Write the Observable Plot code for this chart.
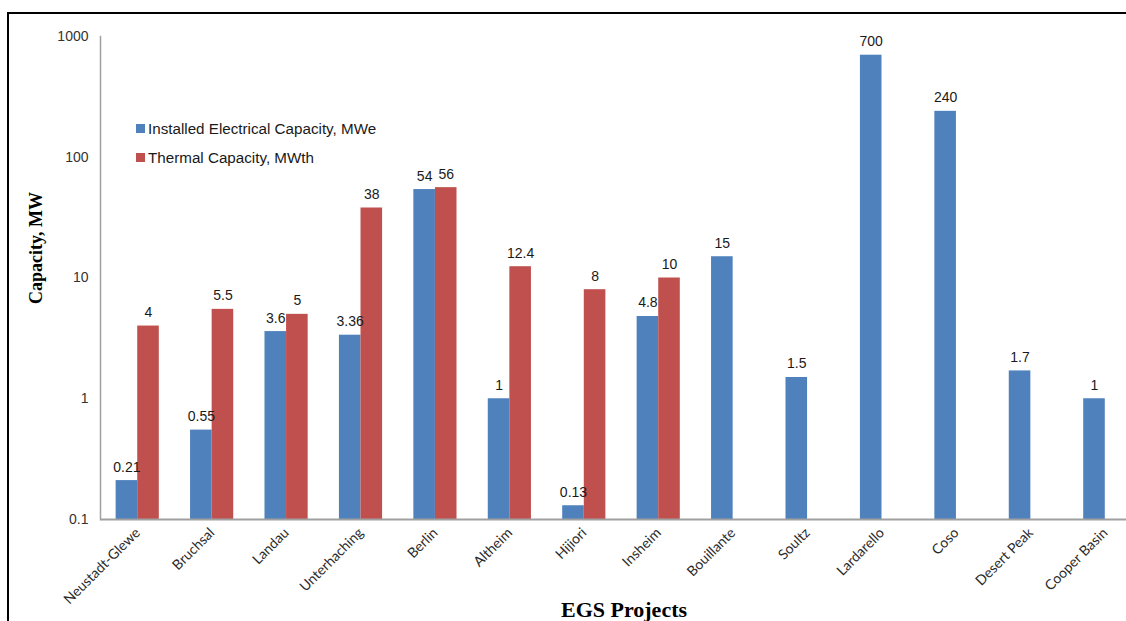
<!DOCTYPE html>
<html>
<head>
<meta charset="utf-8">
<script src="https://cdn.jsdelivr.net/npm/d3@7"></script>
<script src="https://cdn.jsdelivr.net/npm/@observablehq/plot@0.6"></script>
<style>
  html, body { margin: 0; padding: 0; background: #fff; }
  #wrap { position: relative; width: 1126px; height: 621px; overflow: hidden; background: #fff; }
  #frame { position: absolute; left: 7px; top: 12px; width: 1200px; height: 700px;
           border-top: 2.5px solid #000; border-left: 2.5px solid #000; box-sizing: border-box; }
  #chart { position: absolute; left: 0; top: 0; }
  .legend { position: absolute; left: 136px; top: 119px; font-family: "Liberation Sans", Arial, sans-serif;
            font-size: 15.2px; color: #1a1a1a; }
  .legend .row { display: flex; align-items: center; height: 18px; margin-bottom: 11px; white-space: nowrap; }
  .legend .sw { display: inline-block; width: 9px; height: 9px; margin-right: 3px; }
  .ytitle { position: absolute; left: 36px; top: 248px; transform: translate(-50%, -50%) rotate(-90deg);
            font-family: "Liberation Serif", "Times New Roman", serif; font-weight: bold; font-size: 18px;
            white-space: nowrap; color: #000; }
  .xtitle { position: absolute; left: 624px; top: 599px; transform: translateX(-50%);
            font-family: "Liberation Serif", "Times New Roman", serif; font-weight: bold; font-size: 22px;
            white-space: nowrap; color: #000; line-height: 1; }
</style>
</head>
<body>
<div id="wrap">
  <div id="chart"></div>
  <div id="frame"></div>
  <div class="legend" id="legend"></div>
  <div class="ytitle" id="ytitle"></div>
  <div class="xtitle" id="xtitle"></div>
</div>
<script>
const projects = ["Neustadt-Glewe","Bruchsal","Landau","Unterhaching","Berlin","Altheim","Hijiori","Insheim","Bouillante","Soultz","Lardarello","Coso","Desert Peak","Cooper Basin"];
const electrical = [0.21, 0.55, 3.6, 3.36, 54, 1, 0.13, 4.8, 15, 1.5, 700, 240, 1.7, 1];
const thermal = [4, 5.5, 5, 38, 56, 12.4, 8, 10, null, null, null, null, null, null];
const yTicks = [0.1, 1, 10, 100, 1000];
const seriesNames = ["Installed Electrical Capacity, MWe", "Thermal Capacity, MWth"];
const seriesColors = ["#4F81BD", "#C0504D"];
const yTitle = "Capacity, MW";
const xTitle = "EGS Projects";

const elec = projects.map((p, i) => ({project: p, value: electrical[i]}));
const therm = projects.map((p, i) => ({project: p, value: thermal[i]})).filter(d => d.value != null);

const xRange = [100, 1142];
const padInner = 0.42, padOuter = 0.21;
const step = (xRange[1] - xRange[0]) / (projects.length - padInner + 2 * padOuter);
const half = step * (1 - padInner) / 2;

const chart = Plot.plot({
  width: 1126,
  height: 621,
  marginTop: 36,
  marginBottom: 102,
  marginLeft: 100,
  marginRight: 0,
  style: {fontFamily: "'Liberation Sans', Arial, sans-serif", background: "transparent", overflow: "visible"},
  x: {domain: projects, range: xRange, paddingInner: padInner, paddingOuter: padOuter, round: false, axis: null},
  y: {type: "log", domain: [0.1, 1000], axis: null},
  marks: [
    Plot.barY(elec, {x: "project", y1: 0.1, y2: "value", fill: seriesColors[0], insetRight: half}),
    Plot.barY(therm, {x: "project", y1: 0.1, y2: "value", fill: seriesColors[1], insetLeft: half}),
    Plot.ruleY([0.1], {stroke: "#a0a0a0", strokeWidth: 2}),
    Plot.frame({anchor: "left", stroke: "#a0a0a0", strokeWidth: 1.5}),
    Plot.text(elec, {x: "project", y: "value", text: d => String(d.value), dx: -half / 2, dy: -9,
                     lineAnchor: "bottom", fontSize: 14, fill: "#1a1a1a"}),
    Plot.text(therm, {x: "project", y: "value", text: d => String(d.value), dx: half / 2, dy: -9,
                      lineAnchor: "bottom", fontSize: 14, fill: "#1a1a1a"}),
    Plot.axisY({ticks: yTicks, tickFormat: d => String(d), tickSize: 0, tickPadding: 12,
                fontSize: 14, fill: "#333", label: null}),
    Plot.axisX({tickRotate: -45, tickSize: 0, tickPadding: 11, fontSize: 14,
                fontFamily: "Lato, 'Open Sans', sans-serif", fill: "#2a2a2a", label: null})
  ]
});
document.getElementById("chart").appendChild(chart);

const legend = document.getElementById("legend");
seriesNames.forEach((name, i) => {
  const row = document.createElement("div");
  row.className = "row";
  const sw = document.createElement("span");
  sw.className = "sw";
  sw.style.background = seriesColors[i];
  row.appendChild(sw);
  row.appendChild(document.createTextNode(name));
  legend.appendChild(row);
});
document.getElementById("ytitle").textContent = yTitle;
document.getElementById("xtitle").textContent = xTitle;
</script>
</body>
</html>
